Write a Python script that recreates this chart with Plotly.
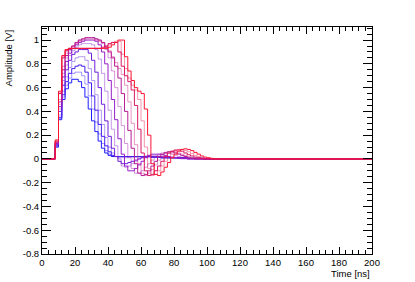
import plotly.graph_objects as go

# Time bins (ns), 2 ns wide, left edges
TIME = [0, 2, 4, 6, 8, 10, 12, 14, 16, 18, 20, 22, 24, 26, 28, 30, 32, 34, 36, 38,
        40, 42, 44, 46, 48, 50, 52, 54, 56, 58, 60, 62, 64, 66, 68, 70, 72, 74, 76, 78,
        80, 82, 84, 86, 88, 90, 92, 94, 96, 98, 100, 102, 104, 106, 108, 110, 112, 114, 116, 118, 120]
END_TIME = 200

pulse_00 = [0, 0, 0, 0,
            .10, .33, .50, .59, .64, .67, .67, .65, .60, .52,
            .42, .32, .23, .15, .09, .05, .03, .02, .02, .02,
            .02, .02, .02, .02, .02, .02, .02, .02, .02, .015,
            .015, .015, .01, .01, .01, .01, .01, .01, .01, .01,
            .005, .005, .005, .005, .005, 0, 0, 0, 0, 0,
            0, 0, 0, 0, 0, 0, 0]
pulse_01 = [0, 0, 0, 0,
            .10, .34, .52, .62, .68, .72, .73, .73, .70, .63,
            .53, .42, .31, .21, .13, .07, .04, .02, .02, .02,
            .02, .02, .02, .02, .02, .02, .02, .02, .02, .015,
            .015, .015, .01, .01, .01, .01, .01, .01, .01, .01,
            .005, .005, .005, .005, .005, 0, 0, 0, 0, 0,
            0, 0, 0, 0, 0, 0, 0]
pulse_02 = [0, 0, 0, 0,
            .11, .35, .54, .65, .72, .76, .78, .79, .78, .73,
            .64, .53, .41, .29, .19, .11, .06, .03, .02, .02,
            .02, .02, .02, .02, .02, .02, .02, .02, .02, .015,
            .015, .015, .01, .01, .01, .01, .01, .01, .01, .01,
            .005, .005, .005, .005, .005, 0, 0, 0, 0, 0,
            0, 0, 0, 0, 0, 0, 0]
pulse_03 = [0, 0, 0, 0,
            .11, .37, .57, .69, .77, .82, .85, .86, .86, .83,
            .76, .66, .54, .41, .29, .18, .10, .05, .02, .01,
            .01, .01, .015, .015, .015, .015, .015, .015, .015, .015,
            .015, .015, .01, .01, .01, .01, .01, .01, .01, .01,
            .005, .005, .005, .005, .005, 0, 0, 0, 0, 0,
            0, 0, 0, 0, 0, 0, 0]
pulse_04 = [0, 0, 0, 0,
            .12, .40, .62, .75, .83, .88, .90, .92, .92, .92,
            .89, .83, .73, .60, .46, .32, .19, .09, .02, -.02,
            -.04, -.04, -.03, -.02, -.01, 0, .01, .015, .02, .02,
            .02, .02, .015, .015, .01, .01, .01, .005, .005, .005,
            0, 0, 0, 0, 0, 0, 0, 0, 0, 0,
            0, 0, 0, 0, 0, 0, 0]
pulse_05 = [0, 0, 0, 0,
            .12, .42, .66, .79, .87, .91, .94, .96, .97, .97,
            .97, .96, .92, .84, .72, .57, .41, .25, .11, .00,
            -.06, -.07, -.06, -.04, -.02, 0, .015, .025, .03, .03,
            .03, .025, .02, .015, .01, .01, .005, .005, 0, 0,
            0, 0, 0, 0, 0, 0, 0, 0, 0, 0,
            0, 0, 0, 0, 0, 0, 0]
pulse_06 = [0, 0, 0, 0,
            .13, .44, .69, .82, .89, .93, .96, .98, .99, 1.0,
            1.0, 1.0, .99, .96, .90, .80, .66, .50, .33, .17,
            .04, -.06, -.10, -.10, -.08, -.05, -.02, .01, .03, .04,
            .04, .04, .035, .03, .02, .015, .01, .01, .005, .005,
            0, 0, 0, 0, 0, 0, 0, 0, 0, 0,
            0, 0, 0, 0, 0, 0, 0]
pulse_07 = [0, 0, 0, 0,
            .13, .46, .72, .85, .91, .95, .98, 1.0, 1.01, 1.02,
            1.02, 1.02, 1.01, 1.0, .97, .92, .85, .74, .60, .44,
            .28, .13, .01, -.08, -.12, -.12, -.10, -.07, -.04, -.01,
            .02, .04, .05, .05, .045, .04, .03, .02, .015, .01,
            .005, .005, 0, 0, 0, 0, 0, 0, 0, 0,
            0, 0, 0, 0, 0, 0, 0]
pulse_08 = [0, 0, 0, 0,
            .14, .48, .75, .87, .92, .95, .98, 1.0, 1.01, 1.02,
            1.02, 1.02, 1.01, 1.0, .98, .94, .90, .85, .78, .68,
            .55, .40, .24, .09, -.04, -.12, -.14, -.13, -.10, -.06,
            -.02, .02, .04, .055, .06, .06, .05, .04, .03, .02,
            .01, .005, 0, 0, 0, 0, 0, 0, 0, 0,
            0, 0, 0, 0, 0, 0, 0]
pulse_09 = [0, 0, 0, 0,
            .14, .50, .78, .89, .93, .95, .97, .99, 1.0, 1.01,
            1.01, 1.01, 1.0, .99, .98, .95, .91, .86, .81, .76,
            .71, .62, .48, .30, .12, -.04, -.12, -.14, -.12, -.09,
            -.05, -.01, .02, .045, .06, .065, .06, .05, .04, .03,
            .02, .01, .005, 0, 0, 0, 0, 0, 0, 0,
            0, 0, 0, 0, 0, 0, 0]
pulse_10 = [0, 0, 0, 0,
            .15, .55, .85, .91, .93, .93, .93, .93, .93, .93,
            .93, .93, .93, .93, .94, .95, .97, .98, .98, .90,
            .78, .70, .65, .58, .45, .25, .05, -.10, -.14, -.13,
            -.10, -.06, -.02, .02, .05, .065, .075, .075, .065, .05,
            .035, .025, .015, .01, .005, 0, 0, 0, 0, 0,
            0, 0, 0, 0, 0, 0, 0]
pulse_11 = [0, 0, 0, 0,
            .15, .56, .86, .92, .93, .93, .93, .93, .93, .93,
            .93, .93, .93, .93, .93, .94, .96, .98, .99, .99,
            .88, .76, .68, .62, .58, .50, .32, .10, -.08, -.14,
            -.13, -.10, -.06, -.02, .02, .05, .07, .08, .08, .07,
            .06, .045, .03, .02, .01, .005, 0, 0, 0, 0,
            0, 0, 0, 0, 0, 0, 0]
pulse_12 = [0, 0, 0, 0,
            .16, .57, .87, .92, .93, .93, .93, .93, .93, .93,
            .93, .93, .93, .93, .93, .93, .94, .96, .98, 1.0,
            1.0, .86, .74, .66, .60, .57, .55, .42, .20, -.04,
            -.13, -.14, -.11, -.07, -.03, .01, .04, .065, .08, .085,
            .08, .07, .055, .04, .025, .015, .01, .005, 0, 0,
            0, 0, 0, 0, 0, 0, 0]

PULSES = [pulse_00, pulse_01, pulse_02, pulse_03, pulse_04, pulse_05, pulse_06,
          pulse_07, pulse_08, pulse_09, pulse_10, pulse_11, pulse_12]
for p in PULSES:
    assert len(p) == len(TIME), len(p)

X_TICKS = [0, 20, 40, 60, 80, 100, 120, 140, 160, 180, 200]
X_LABELS = ["0", "20", "40", "60", "80", "100", "120", "140", "160", "180", "200"]
Y_TICKS = [-0.8, -0.6, -0.4, -0.2, 0, 0.2, 0.4, 0.6, 0.8, 1.0]
Y_LABELS = ["-0.8", "-0.6", "-0.4", "-0.2", "0", "0.2", "0.4", "0.6", "0.8", "1"]


def color_for(i, n):
    f = i / (n - 1)
    if f < 0.5:
        g = f / 0.5
        c0, c1 = (30, 30, 255), (150, 30, 200)
    else:
        g = (f - 0.5) / 0.5
        c0, c1 = (150, 30, 200), (250, 20, 50)
    r, gg, b = (round(c0[k] + (c1[k] - c0[k]) * g) for k in range(3))
    a = 1.0 if i % 2 == 0 else 0.45
    return f"rgba({r},{gg},{b},{a})"


fig = go.Figure()
n = len(PULSES)
for i, p in enumerate(PULSES):
    fig.add_trace(go.Scatter(
        x=TIME + [END_TIME], y=p + [p[-1]],
        mode="lines", line=dict(shape="hv", width=1, color=color_for(i, n)),
        hoverinfo="skip", showlegend=False))

font = dict(family="Liberation Sans, Arial, sans-serif", size=9.5, color="black")
x_minor = [v for v in range(0, 201, 4) if v % 20 != 0]
y_minor = [round(-0.8 + 0.05 * k, 3) for k in range(0, 39)]
y_minor = [v for v in y_minor if abs(round(v / 0.2) * 0.2 - v) > 1e-6]

fig.update_layout(
    width=415, height=282,
    margin=dict(l=42, r=43, t=27, b=28),
    paper_bgcolor="white", plot_bgcolor="white",
    font=font, showlegend=False,
    xaxis=dict(range=[0, 200], showgrid=False, zeroline=False,
               showline=True, linecolor="black", linewidth=1, mirror="allticks",
               ticks="inside", ticklen=7, tickcolor="black", tickwidth=1,
               tickmode="array", tickvals=X_TICKS, ticktext=X_LABELS, tickfont=font,
               minor=dict(tickmode="array", tickvals=x_minor, ticks="inside",
                          ticklen=4, tickcolor="black", showgrid=False)),
    yaxis=dict(range=[-0.8, 1.11], showgrid=False, zeroline=False,
               showline=True, linecolor="black", linewidth=1, mirror="allticks",
               ticks="inside", ticklen=9, tickcolor="black", tickwidth=1,
               tickmode="array", tickvals=Y_TICKS, ticktext=Y_LABELS, tickfont=font,
               minor=dict(tickmode="array", tickvals=y_minor, ticks="inside",
                          ticklen=5, tickcolor="black", showgrid=False)),
    annotations=[
        dict(text="Time [ns]", xref="paper", yref="paper", x=1.0, y=-0.088,
             xanchor="right", yanchor="middle", showarrow=False, font=font),
        dict(text="Amplitude [V]", xref="paper", yref="paper", x=-0.103, y=0.996,
             xanchor="center", yanchor="top", textangle=-90, showarrow=False, font=font),
    ],
)

fig.write_html("out.html", config={"displayModeBar": False},
               post_script="document.body.style.margin='0';document.body.style.padding='0';")
